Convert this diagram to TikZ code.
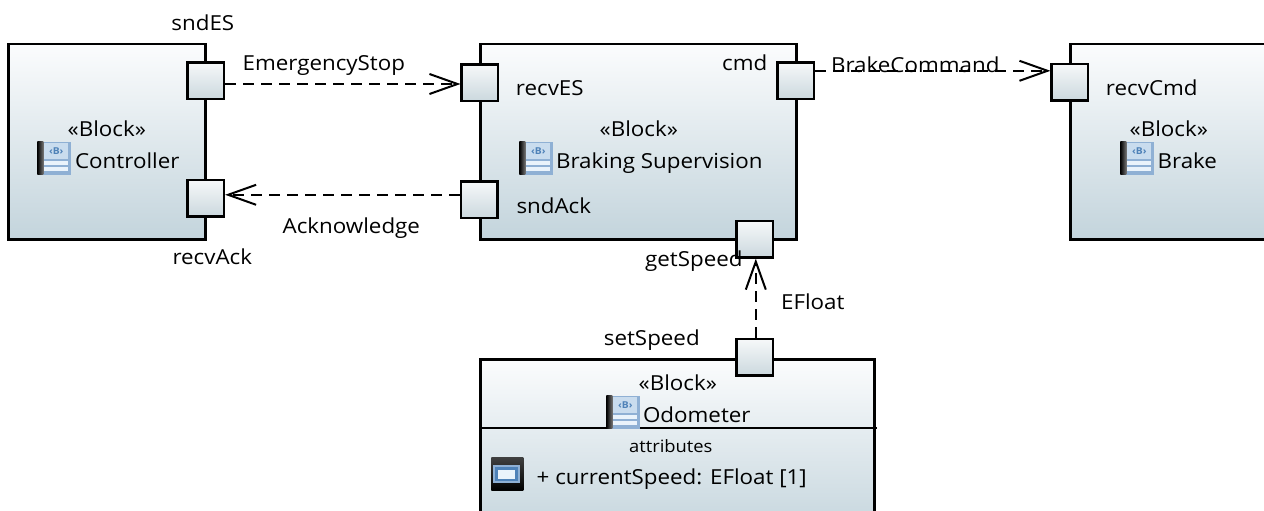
\documentclass[tikz,border=0pt]{standalone}
\usepackage{fontspec}
\setmainfont[FakeStretch=1.08]{Open Sans}
\usetikzlibrary{arrows.meta}
\definecolor{gradtop}{HTML}{FBFCFD}
\definecolor{gradbot}{HTML}{C3D4DC}
\definecolor{porttop}{HTML}{F6F8F9}
\definecolor{portbot}{HTML}{CBD8DE}
\definecolor{iconblue}{HTML}{4F82B8}
\definecolor{iconbody}{HTML}{8FB0D4}
\definecolor{iconpale}{HTML}{C9DCEE}
\definecolor{iconwhite}{HTML}{EAF3FB}
\tikzset{
  blockbox/.style={draw=black,line width=2.2pt,top color=gradtop,bottom color=gradbot,rectangle,inner sep=0pt,anchor=north west},
  portbox/.style={draw=black,line width=2.2pt,top color=porttop,bottom color=portbot,rectangle,inner sep=0pt,minimum size=36.5pt},
  lbl/.style={anchor=base,inner sep=0pt,yshift=-1.6pt,font=\fontsize{20.7pt}{24pt}\selectfont},
  smalllbl/.style={anchor=base,inner sep=0pt,yshift=-1.6pt,font=\fontsize{17pt}{20pt}\selectfont},
  dep/.style={line width=2pt,dash pattern=on 11pt off 7pt,-{Straight Barb[length=28pt,width=20pt,line width=2pt]}},
  sepline/.style={draw=black,line width=2.2pt},
}
\newcommand{\blockicon}[3]{%
  \begin{scope}[shift={(#1,#2)}]
    \node[rectangle,inner sep=0pt,minimum width=33pt,minimum height=33pt,anchor=north west,fill=iconbody] (#3) at (0,0) {};
    \shade[left color=black,right color=black!55] (0,0) rectangle (6,33);
    \fill[iconpale] (7,2) rectangle (31,18);
    \fill[iconwhite] (7,20) rectangle (31,23.5);
    \fill[iconwhite] (7,26) rectangle (31,29.5);
    \node[inner sep=0pt,text=iconblue,font=\fontsize{9.5pt}{9.5pt}\selectfont\bfseries] at (19,10) {‹B›};
  \end{scope}}
\begin{document}
\begin{tikzpicture}[x=1pt,y=-1pt]
\useasboundingbox (0,0) rectangle (1264,511);
\clip (0,0) rectangle (1264,511);
\begin{scope}[shift={(-0.7,-0.7)}]
% blocks
\node[blockbox,minimum width=197pt,minimum height=195pt] (controller) at (8,44) {};
\node[blockbox,minimum width=316pt,minimum height=195pt] (braking) at (480,44) {};
\node[blockbox,minimum width=240pt,minimum height=195pt] (brake) at (1070,44) {};
\node[blockbox,minimum width=394pt,minimum height=180pt] (odometer) at (480,359) {};
\coordinate (sepL) at (480,429);
\coordinate (sepR) at (878,429);
\draw[sepline] (sepL) -- (sepR);
% icons
\blockicon{38}{142}{iconA}
\blockicon{520}{142}{iconB}
\blockicon{1121}{142}{iconC}
\blockicon{607}{396}{iconD}
\shade[top color=black!75,bottom color=black] (492,458) rectangle (524,491);
\node[rectangle,draw=iconbody,line width=2pt,fill=iconblue,minimum width=25pt,minimum height=16pt,inner sep=0pt] (iconE) at (507.5,475) {};
\node[rectangle,fill=iconwhite,minimum width=17pt,minimum height=9pt,inner sep=0pt] (iconF) at (507.5,475) {};
% ports
\node[portbox] (sndES) at (206.5,81.5) {};
\node[portbox] (recvAck) at (206.5,199) {};
\node[portbox] (recvES) at (480.5,83.5) {};
\node[portbox] (sndAck) at (480,200.5) {};
\node[portbox] (cmd) at (796.5,81.5) {};
\node[portbox] (getSpeed) at (755.5,240) {};
\node[portbox] (setSpeed) at (755.5,358) {};
\node[portbox] (recvCmd) at (1070.5,83) {};
% connectors
\coordinate (esTo) at ([yshift=-1.2pt]recvES.west);
\coordinate (ackFrom) at ([yshift=5pt]sndAck.west);
\coordinate (bcFrom) at ([yshift=10pt]cmd.east);
\coordinate (efFrom) at ([xshift=1pt]setSpeed.north);
\coordinate (efTo) at ([xshift=1pt]getSpeed.south);
\draw[dep] (sndES.east |- esTo) -- (esTo);
\draw[dep] (ackFrom) -- (recvAck.east |- ackFrom);
\draw[dep] (efFrom) -- (efTo);
\draw[dep] (bcFrom) -- (recvCmd.west |- bcFrom);
% labels
\node[lbl] (tSndES) at (203.5,30) {sndES};
\node[lbl] (tRecvAck) at (213,264) {recvAck};
\node[lbl] (tES) at (324.5,70) {EmergencyStop};
\node[lbl] (tAck) at (352,233) {Acknowledge};
\node[lbl] (tRecvES) at (550.5,95) {recvES};
\node[lbl] (tSndAck) at (554.5,213) {sndAck};
\node[lbl] (tCmd) at (745.5,70) {cmd};
\node[lbl] (tBC) at (916,72) {BrakeCommand};
\node[lbl] (tRecvCmd) at (1152.5,95) {recvCmd};
\node[lbl] (tGet) at (694.5,266) {getSpeed};
\node[lbl] (tSet) at (652.5,345) {setSpeed};
\node[lbl] (tEF) at (813.5,309) {EFloat};
\node[lbl] (s1) at (107.5,136) {«Block»};
\node[lbl] (n1) at (128,168) {Controller};
\node[lbl] (s2) at (639.5,136) {«Block»};
\node[lbl] (n2) at (660,168) {Braking Supervision};
\node[lbl] (s3) at (1169.5,136) {«Block»};
\node[lbl] (n3) at (1188,168) {Brake};
\node[lbl] (s4) at (678.5,390) {«Block»};
\node[lbl] (n4) at (697.5,422) {Odometer};
\node[smalllbl] (attr) at (671.5,452) {attributes};
\node[lbl] (cs) at (672.5,484) {+ currentSpeed: EFloat [1]};
\end{scope}
\end{tikzpicture}
\end{document}
